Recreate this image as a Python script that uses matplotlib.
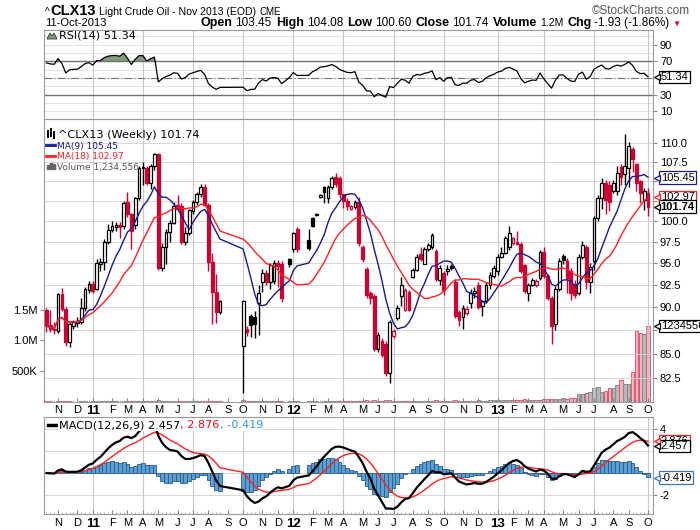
import numpy as np
import pandas as pd
import matplotlib
matplotlib.use("Agg")
import matplotlib.pyplot as plt
from matplotlib.transforms import blended_transform_factory
from matplotlib.ticker import NullLocator, FixedLocator
from matplotlib.lines import Line2D
from matplotlib.patches import Polygon, Rectangle

W, H = 700, 530
RED = "#cc0033"
NAVY = "#1a1a8a"
MARED = "#ff2020"
plt.rcParams["font.family"] = ["Liberation Sans", "DejaVu Sans"]

# weekly bars (Monday of each week); None = no trading that week
weeks = pd.date_range("2010-10-11", periods=157, freq="W-MON")

opens = [89.7, 88.0, 87.6, 87.4, 91.4, 89.8, 86.2, 87.9, 88.2, 88.4,
         89.9, 91.9, 92.6, 92.0, 94.8, 95.1, 97.5, 98.9, 99.2, 99.5,
         99.4, 102.3, 100.8, 99.5, 102.8, 106.7, 106.7, 104.8, 106.9, 108.6,
         94.4, 96.9, 98.7, 99.8, 102.0, 101.8, 97.5, 98.5, 101.2, 102.4,
         103.3, 104.3, 102.0, 95.1, 91.7, 89.4, None, None, None, None,
         None, 85.8, 87.6, 89.0, 88.9, 90.4, 92.8, 93.8, 92.8, 92.9,
         95.0, 94.8, None, 95.4, 96.6, 99.0, None, None, 97.7, 100.4,
         100.7, 103.0, 104.3, 102.8, 104.3, 105.5, 105.4, 103.3, 102.5, 101.5,
         101.7, 102.3, 96.9, 94.3, 91.6, 91.2, 85.5, 86.3, 86.0, 83.0,
         86.8, 88.8, 91.2, 89.7, 91.7, 93.4, 94.2, 96.0, 94.9, 96.6,
         96.8, 96.4, 93.0, 93.8, 94.0, 94.6, 92.8, 89.4, 88.9, 89.3,
         90.4, 91.5, 92.5, 90.1, 90.7, 92.4, 93.5, 94.0, 95.7, 96.2,
         96.8, 97.3, 97.5, 97.2, 94.7, 91.6, 92.5, 92.4, 93.2, 96.3,
         93.5, 91.0, 88.1, 92.0, 95.8, 95.2, 94.0, 92.6, 91.6, 95.7,
         96.9, 92.8, 95.2, 100.4, 102.8, 104.7, 104.5, 103.7, 103.7, 106.8,
         105.9, 106.7, 109.2, 107.2, 105.0, 102.6, 103.45]
highs = [89.9, 89.7, 88.4, 91.6, 92.1, 90.0, 88.3, 88.6, 88.9, 91.0,
         92.2, 92.9, 92.9, 95.4, 95.5, 97.8, 99.6, 100.0, 99.9, 99.9,
         102.5, 103.6, 101.0, 103.0, 106.9, 107.5, 107.0, 107.2, 108.7, 108.7,
         97.3, 99.0, 100.1, 102.3, 103.2, 102.2, 99.2, 101.5, 102.6, 103.6,
         104.6, 104.6, 102.2, 96.1, 93.7, 90.8, None, None, None, None,
         None, 90.8, 87.9, 89.2, 89.5, 92.5, 94.3, 94.2, 95.0, 95.3,
         95.3, 95.2, None, 95.6, 98.7, 99.2, None, None, 99.0, 100.5,
         101.0, 103.3, 104.4, 104.5, 105.6, 106.0, 105.6, 103.4, 102.9, 102.0,
         102.6, 103.0, 97.1, 94.5, 91.8, 91.4, 87.3, 86.6, 86.3, 88.6,
         87.6, 90.2, 93.4, 92.1, 91.9, 94.4, 96.0, 96.9, 96.8, 97.3,
         98.5, 96.6, 94.7, 94.0, 94.7, 94.8, 93.1, 89.7, 90.2, 90.1,
         92.0, 92.2, 92.8, 90.8, 92.8, 93.9, 94.7, 96.0, 96.8, 98.2,
         99.4, 98.1, 98.8, 97.4, 94.9, 92.7, 93.3, 93.1, 96.5, 96.8,
         93.7, 91.2, 92.3, 95.5, 96.0, 95.5, 94.4, 93.0, 96.0, 97.6,
         97.1, 95.0, 100.6, 103.2, 105.4, 105.2, 105.0, 105.2, 107.0, 107.2,
         111.3, 110.2, 109.5, 107.4, 105.2, 104.1, 104.08]
lows = [87.3, 87.3, 87.1, 87.2, 89.6, 85.8, 85.7, 87.6, 87.8, 88.1,
        89.6, 91.6, 91.5, 91.9, 94.0, 94.2, 97.2, 98.6, 98.8, 97.9,
        99.0, 100.5, 96.6, 99.0, 102.6, 104.5, 104.5, 104.0, 106.5, 94.2,
        94.0, 94.8, 97.5, 99.6, 101.2, 97.2, 97.1, 98.3, 100.8, 102.0,
        103.0, 101.8, 94.0, 88.1, 88.2, 89.2, None, None, None, None,
        None, 81.0, 86.8, 86.7, 86.6, 87.0, 91.7, 92.4, 92.0, 92.6,
        92.2, 90.5, None, 94.5, 96.3, 96.3, None, None, 96.5, 99.3,
        100.6, 102.9, 102.2, 102.2, 104.0, 104.3, 102.8, 101.6, 101.3, 101.3,
        101.5, 97.0, 95.1, 91.0, 90.3, 85.3, 85.2, 84.6, 82.7, 82.0,
        86.6, 88.6, 90.1, 89.5, 89.5, 93.2, 94.0, 95.2, 94.8, 96.4,
        96.6, 92.9, 92.5, 91.3, 93.6, 94.2, 88.8, 87.9, 87.6, 89.1,
        89.9, 91.0, 89.8, 89.0, 90.5, 92.0, 93.2, 93.6, 95.5, 96.0,
        96.5, 97.1, 97.1, 93.8, 91.5, 90.6, 92.3, 92.2, 93.0, 93.3,
        90.8, 86.0, 87.5, 91.8, 94.9, 91.5, 90.8, 91.0, 91.3, 95.4,
        92.0, 91.6, 94.2, 100.0, 101.5, 100.8, 101.2, 103.5, 103.2, 104.5,
        104.5, 104.2, 106.2, 103.7, 102.2, 101.4, 100.60]
closes = [87.9, 87.6, 87.5, 91.4, 89.8, 86.2, 88.1, 88.3, 88.5, 89.9,
          92.0, 92.6, 91.8, 95.0, 95.1, 97.5, 98.9, 99.4, 99.5, 99.3,
          102.2, 100.8, 98.8, 102.8, 106.7, 106.7, 104.8, 106.9, 108.6, 94.4,
          96.9, 98.7, 99.8, 101.9, 101.5, 97.5, 98.5, 101.3, 102.4, 103.4,
          104.3, 102.0, 95.1, 91.7, 89.4, 90.6, None, None, None, None,
          None, 90.7, 87.3, 88.0, 88.1, 91.6, 93.8, 92.8, 94.7, 95.0,
          94.6, 91.0, None, 94.8, 98.5, 96.6, None, None, 96.7, 99.4,
          100.9, 103.2, 103.6, 104.3, 105.4, 104.6, 103.3, 102.5, 101.9, 101.8,
          102.3, 97.3, 95.4, 91.3, 91.0, 85.5, 87.0, 84.9, 83.0, 88.4,
          87.4, 89.9, 92.5, 91.9, 89.7, 94.2, 95.7, 95.4, 96.6, 97.1,
          98.3, 93.1, 94.4, 91.9, 94.3, 94.4, 89.0, 88.6, 89.9, 89.8,
          91.5, 91.8, 90.0, 90.6, 92.5, 93.6, 94.4, 95.7, 96.2, 97.9,
          98.5, 97.9, 97.2, 94.0, 91.8, 92.5, 93.0, 92.9, 96.3, 93.5,
          91.0, 87.9, 92.0, 95.2, 95.3, 93.2, 91.6, 91.3, 95.7, 97.1,
          92.8, 94.5, 100.4, 102.8, 104.7, 102.6, 102.4, 104.7, 106.0, 105.5,
          107.0, 109.6, 107.9, 104.7, 103.45, 103.7, 101.74]
volumes = [12000, 9000, 8000, 15000, 11000, 14000, 9000, 7000, 6000, 10000,
           12000, 8000, 9000, 10000, 9000, 16000, 22000, 12000, 9000, 8000,
           14000, 12000, 16000, 11000, 18000, 20000, 15000, 17000, 19000, 26000,
           18000, 20000, 17000, 15000, 14000, 19000, 13000, 15000, 12000, 14000,
           13000, 20000, 24000, 22000, 21000, 12000, None, None, None, None,
           None, 30000, 15000, 12000, 13000, 18000, 20000, 17000, 22000, 19000,
           16000, 24000, None, 12000, 18000, 22000, None, None, 14000, 20000,
           9000, 8000, 16000, 21000, 18000, 24000, 20000, 18000, 17000, 12000,
           15000, 22000, 18000, 25000, 14000, 28000, 20000, 18000, 26000, 30000,
           16000, 19000, 21000, 17000, 20000, 22000, 24000, 16000, 18000, 15000,
           20000, 26000, 18000, 22000, 15000, 10000, 30000, 24000, 20000, 16000,
           22000, 18000, 26000, 20000, 24000, 28000, 30000, 35000, 32000, 38000,
           36000, 33000, 30000, 40000, 42000, 35000, 32000, 30000, 38000, 45000,
           48000, 52000, 46000, 50000, 60000, 52000, 60000, 62000, 125000, 125000,
           140000, 170000, 220000, 250000, 170000, 180000, 220000, 220000, 275000, 360000,
           300000, 300000, 490000, 1150000, 1120000, 1110000, 1234556]

# values printed on the chart
last_close, last_ma9, last_ma18, last_vol = 101.74, 105.45, 102.97, 1234556
last_rsi = 51.34
last_macd, last_sig, last_hist = 2.457, 2.876, -0.419

price_ticks = [82.5, 85.0, 87.5, 90.0, 92.5, 95.0, 97.5, 100.0, 102.5, 105.0, 107.5, 110.0]
hidden_prices = (87.5, 102.5, 105.0)  # covered by the value tags


def arr(v):
    return np.array([np.nan if x is None else x for x in v], dtype=float)


o, h, l, c, v = arr(opens), arr(highs), arr(lows), arr(closes), arr(volumes)
ok = ~np.isnan(c)
xs = np.arange(len(weeks))[ok]
cs = pd.Series(c[ok], index=xs)

ma9 = cs.rolling(9, min_periods=1).mean()
ma18 = cs.rolling(18, min_periods=1).mean()

d = cs.diff().fillna(0).values
gain, loss = np.clip(d, 0, None), np.clip(-d, 0, None)
ag, al = gain[1:15].mean(), loss[1:15].mean()
rsi = []
for g, lo in zip(gain, loss):
    ag = (ag * 13 + g) / 14
    al = (al * 13 + lo) / 14
    rsi.append(100 - 100 / (1 + ag / al))
rsi = np.array(rsi)

macd = cs.ewm(span=12, adjust=False).mean() - cs.ewm(span=26, adjust=False).mean()
sig = macd.ewm(span=9, adjust=False).mean()
hist = macd - sig

prev = np.concatenate([[o[ok][0]], cs.values[:-1]])
up = cs.values >= prev
col = np.where(up, "black", RED)
filled = cs.values < o[ok]

# month ticks at first bar of each month
tick_idx = [i for i in range(1, len(weeks)) if weeks[i].month != weeks[i - 1].month]
tick_lab = [weeks[i].strftime("%y") if weeks[i].month == 1 else weeks[i].strftime("%b")[0]
            for i in tick_idx]
quarter_idx = [i for i in tick_idx if weeks[i].month in (1, 4, 7, 10)]

fig = plt.figure(figsize=(7, 5.3), dpi=100)


def box(top, bottom):
    return [44.3 / W, 1 - bottom / H, 608.7 / W, (bottom - top) / H]


def px(x, y):
    return x / W, 1 - y / H


ax_rsi = fig.add_axes(box(29.7, 119))
ax = fig.add_axes(box(119, 402))
ax_vol = ax.twinx()
ax_macd = fig.add_axes(box(416.7, 514.3))
ax.set_zorder(ax_vol.get_zorder() + 1)
ax.patch.set_visible(False)

xlim = (-0.57, 157.3)
for a in (ax_rsi, ax, ax_macd):
    a.set_xlim(*xlim)
    for s in a.spines.values():
        s.set_color("#9a9a9a")
    for q in quarter_idx:
        a.axvline(q, color="#c8c8c8", lw=0.8, zorder=0.5)
    a.set_xticks(tick_idx)
    a.xaxis.set_minor_locator(FixedLocator(xs))
    a.tick_params(axis="x", which="major", direction="in", length=3, color="#888888",
                  labelsize=8, pad=2.5)
    a.tick_params(axis="x", which="minor", direction="in", length=1.5, color="#aaaaaa")
    a.tick_params(axis="y", left=False, labelleft=False, right=True, labelright=True,
                  length=3, color="#888888", labelsize=8, pad=2)
for s in ax_vol.spines.values():
    s.set_visible(False)

# --- RSI panel
ax_rsi.set_ylim(0.9, 107.8)
for g in range(10, 101, 10):
    ax_rsi.axhline(g, color="#e2e2e2", lw=0.7, zorder=0.3)
ax_rsi.axhline(70, color="#707070", lw=1.0)
ax_rsi.axhline(30, color="#707070", lw=1.0)
ax_rsi.axhline(50, color="#707070", lw=0.8, dashes=(7, 2, 1, 2))
ax_rsi.fill_between(xs, 70, rsi, where=rsi > 70, interpolate=True, color="#7f9e7a", lw=0)
ax_rsi.fill_between(xs, 30, rsi, where=rsi < 30, interpolate=True, color="#7f9e7a", lw=0)
ax_rsi.plot(xs, rsi, color="black", lw=0.9)
ax_rsi.set_yticks([10, 30, 70, 90])
ax_rsi.set_yticklabels(["10", "30", "70", "90"])
ax_rsi.tick_params(axis="x", which="both", labelbottom=False, length=0)

# --- price panel
ax.set_yscale("log")
ax_vol.bar(xs, v[ok], width=0.9, color=np.where(up, "#b6b6b6", "#efb6be"),
           edgecolor=np.where(up, "#8a8a8a", "#dd5a72"), lw=0.7)
ax_vol.set_ylim(0, 283 / 61.6 * 1e6)
ax_vol.yaxis.tick_left()
ax_vol.set_yticks([5e5, 1e6, 1.5e6])
ax_vol.set_yticklabels(["500K", "1.0M", "1.5M"])
ax_vol.tick_params(axis="y", length=3, color="#888888", labelsize=8, pad=2)

ax.vlines(xs, l[ok], h[ok], colors=col, lw=1.0, zorder=3)
lo_b = np.minimum(o[ok], cs.values)
hi_b = np.maximum(o[ok], cs.values)
ax.bar(xs, np.maximum(hi_b - lo_b, 0.07), bottom=lo_b, width=0.72,
       color=np.where(filled, col, "white"), edgecolor=col, lw=0.9, zorder=4)
ax.plot(xs, ma9, color=NAVY, lw=1.0, zorder=5)
ax.plot(xs, ma18, color=MARED, lw=1.0, zorder=5)
ax.set_yticks(price_ticks)
ax.set_yticklabels(["" if p in hidden_prices else f"{p:.1f}" for p in price_ticks])
ax.yaxis.set_minor_locator(NullLocator())
ax.yaxis.tick_right()
for p in price_ticks:
    ax.axhline(p, color="#d6d6d6", lw=0.7, zorder=0.4)
ax.set_ylim(80.1, 113.3)
ax.set_xlim(*xlim)

# --- MACD panel
ax_macd.set_ylim(-3.75, 5.12)
for g in (-2, 0, 2, 4):
    ax_macd.axhline(g, color="#d6d6d6", lw=0.7, zorder=0.4)
ax_macd.bar(xs, hist, width=1.0, color="#5a9fd4", edgecolor="#2a5a8a", lw=0.6, zorder=2)
ax_macd.plot(xs, sig, color=MARED, lw=1.0, zorder=3)
ax_macd.plot(xs, macd, color="black", lw=1.6, zorder=4)
ax_macd.set_yticks([-2, 4])
ax_macd.set_yticklabels(["-2", "4"])

for a in (ax, ax_macd):
    a.set_xticklabels(tick_lab)
    for t, lab in zip(a.get_xticklabels(), tick_lab):
        if lab.isdigit():
            t.set_fontweight("bold")
            t.set_fontsize(9.5)


# --- value tags on the right edge
def tag(a, y, txt, ec, ytrans=None, bold=False):
    tr = blended_transform_factory(a.transAxes, a.transData if ytrans is None else ytrans)
    a.annotate(txt, xy=(1, y), xycoords=tr, xytext=(5.5, 0), textcoords="offset points",
               ha="left", va="center", fontsize=8, fontweight="bold" if bold else "normal",
               annotation_clip=False, zorder=20,
               bbox=dict(boxstyle="square,pad=0.12", fc="white", ec=ec, lw=0.9))
    a.add_line(Line2D([1.0065], [y], marker="<", ms=5, mfc="white", mec=ec, mew=0.9,
                      transform=tr, clip_on=False, zorder=21))


tag(ax_rsi, last_rsi, f"{last_rsi:.2f}", "black")
tag(ax, last_ma9, f"{last_ma9:.2f}", NAVY)
tag(ax, last_ma18, f"{last_ma18:.2f}", MARED)
tag(ax, last_close, f"{last_close:.2f}", "black", bold=True)
tag(ax, last_vol, f"{last_vol}", "black", ytrans=ax_vol.transData)
tag(ax_macd, last_sig, f"{last_sig:.3f}", MARED)
tag(ax_macd, last_macd, f"{last_macd:.3f}", "black")
tag(ax_macd, last_hist, f"{last_hist:.3f}", "#3a78b8")

# --- text runs placed in pixel coordinates
rend = fig.canvas.get_renderer()


def run(x, y, pieces, align="left"):
    arts = []
    for txt, kw, gap in pieces:
        t = fig.text(0, 0, txt, va="baseline", **kw)
        arts.append((t, t.get_window_extent(rend).width + gap))
    cur = x - sum(w for _, w in arts) if align == "right" else x
    for t, w in arts:
        t.set_position(px(cur, y))
        cur += w


B = dict(fontweight="bold")
run(45, 15, [("^", dict(fontsize=7), 1),
             ("CLX13", dict(fontsize=10.5, **B), 3),
             ("Light Crude Oil - Nov 2013 (EOD)", dict(fontsize=7.6), 3),
             ("CME", dict(fontsize=7), 0)])
run(690, 14, [("\u00a9StockCharts.com", dict(fontsize=8.5, color="#555555"), 0)], align="right")
run(45, 26, [("11-Oct-2013", dict(fontsize=8), 0)])
LB = dict(fontsize=9, **B)
VL = dict(fontsize=8.5)
run(681, 26, [("Open", LB, 3), ("103.45", VL, 4),
              ("High", LB, 3), ("104.08", VL, 4),
              ("Low", LB, 3), ("100.60", VL, 4),
              ("Close", LB, 3), ("101.74", VL, 4),
              ("Volume", LB, 3), ("1.2M", dict(fontsize=7.5), 4),
              ("Chg", LB, 3), ("-1.93 (-1.86%)", VL, 3),
              ("\u25bc", dict(fontsize=6, color=RED), 0)], align="right")

LEG = dict(family=["DejaVu Sans"], fontsize=8.1)
SMALL = dict(family=["DejaVu Sans"], fontsize=6.5)
WBG = dict(boxstyle="square,pad=0.05", fc="white", ec="none")
run(59, 38.5, [("RSI(14) 51.34", LEG, 0)])
run(58, 137.5, [("^CLX13 (Weekly) 101.74", LEG, 0)])
run(57, 148.5, [("MA(9) 105.45", dict(color=NAVY, **SMALL), 0)])
run(57, 159.5, [("MA(18) 102.97", dict(color=MARED, **SMALL), 0)])
run(57, 170, [("Volume 1,234,556", dict(color="#555555", **SMALL), 0)])
run(59, 428, [("MACD(12,26,9) 2.457", dict(bbox=WBG, **LEG), 0),
              (", 2.876", dict(color="#ee1111", bbox=WBG, **LEG), 0),
              (", -0.419", dict(color="#3399dd", bbox=WBG, **LEG), 0)])

# legend icons
fig.add_artist(Line2D([px(46, 0)[0], px(55, 0)[0]], [px(0, 145)[1]] * 2, color=NAVY, lw=2))
fig.add_artist(Line2D([px(46, 0)[0], px(55, 0)[0]], [px(0, 156)[1]] * 2, color=MARED, lw=2))
fig.add_artist(Line2D([px(48, 0)[0], px(56, 0)[0]], [px(0, 424.5)[1]] * 2, color="black", lw=2.5))
for k, hh in enumerate([4, 7, 5]):
    x0, y0 = px(47 + 3 * k, 169)
    fig.add_artist(Rectangle((x0, y0), 2 / W, hh / H, color="#666666"))
for k, (yt, yb) in enumerate([(131, 137), (129, 136), (132, 138)]):
    x0 = px(48 + 3 * k, 0)[0]
    fig.add_artist(Line2D([x0, x0], [px(0, yt)[1], px(0, yb)[1]], color="black", lw=1.4))
fig.add_artist(Polygon([px(47, 39), px(50, 33), px(52, 36), px(54, 33), px(57, 39)],
                       closed=True, fc="#7f9e7a", ec="#333333", lw=0.6))

fig.savefig("out.png", dpi=100)
